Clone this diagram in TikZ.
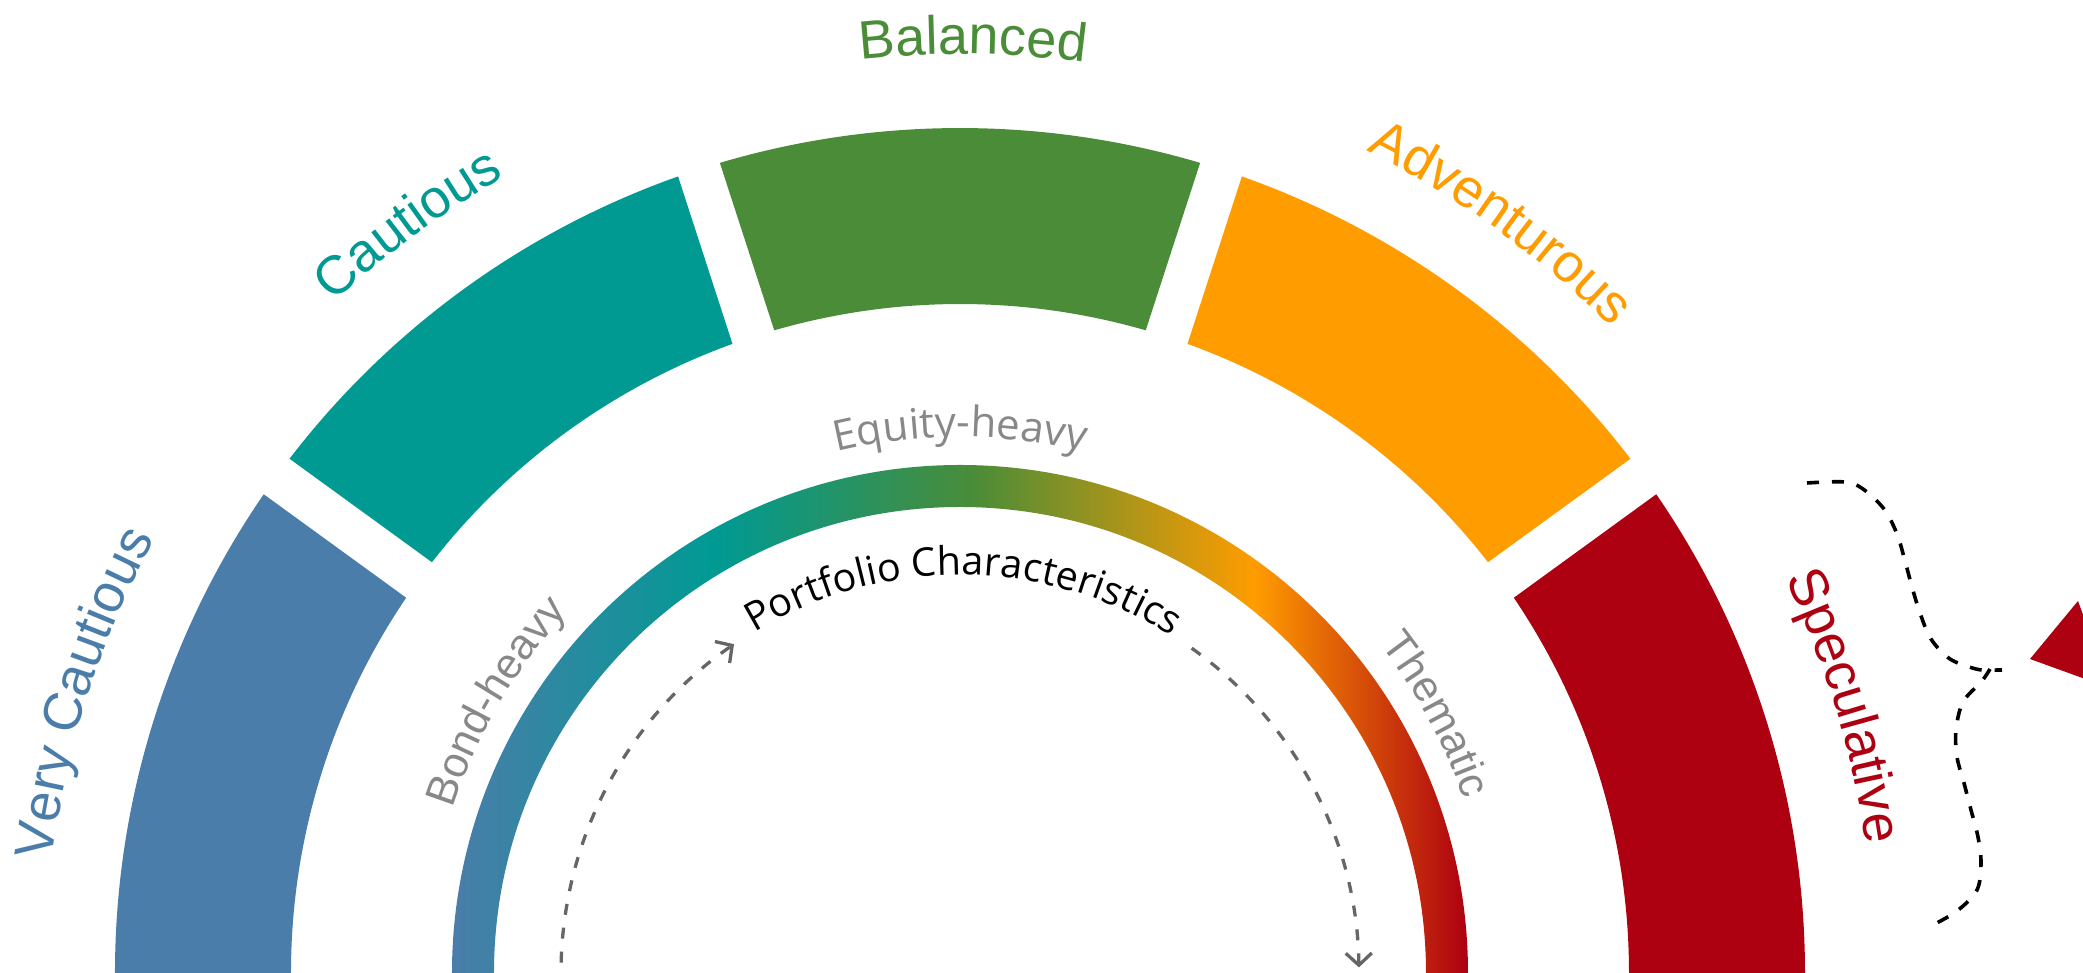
\documentclass[tikz,border=0pt]{standalone}
\usepackage{fontspec}
\setmainfont{Liberation Sans}
\newfontfamily\labfont{Liberation Sans}
\newfontfamily\charfont{Open Sans}
\usetikzlibrary{decorations.text,arrows.meta}
\definecolor{cvc}{HTML}{4A7DAA}
\definecolor{cct}{HTML}{009A93}
\definecolor{cbl}{HTML}{4A8C38}
\definecolor{cad}{HTML}{FF9C00}
\definecolor{csp}{HTML}{AD0011}
\definecolor{cgray}{HTML}{888888}
\definecolor{carrow}{HTML}{666666}
\pgfdeclarehorizontalshading{gaugeshade}{100bp}{color(0bp)=(cvc); color(25bp)=(cvc); color(38bp)=(cct); color(50.7bp)=(cbl); color(64.5bp)=(cad); color(75bp)=(csp); color(100bp)=(csp)}
\newcommand\fBig{\labfont\fontsize{54}{60}\selectfont}
\newcommand\fMid{\labfont\fontsize{43}{50}\selectfont}
\newcommand\fEq{\charfont\fontsize{42}{50}\selectfont}
\newcommand\fPC{\charfont\fontsize{39.5}{46}\selectfont}
% color, outer start, outer end, inner start, inner end
\newcommand\RiskSeg[5]{%
  \fill[#1] (#2:845) arc[start angle=#2, end angle=#3, radius=845]
    -- (#5:669) arc[start angle=#5, end angle=#4, radius=669] -- cycle;}
% radius, centre angle, half span, colour, font, text
\newcommand\ArcText[6]{%
  \path[decorate, decoration={text along path, text align=center,
      text color=#4, text={|#5|#6}}]
    ({#2+#3}:#1) arc[start angle={#2+#3}, end angle={#2-#3}, radius=#1];}
\tikzset{
  darrow/.style={draw=carrow, line width=3.3pt, dash pattern=on 11pt off 13pt,
    -{Straight Barb[length=12pt,width=26pt,line width=3.3pt]}},
  bracestyle/.style={draw=black, line width=3.6pt, dash pattern=on 12pt off 13pt}
}
\begin{document}
\begin{tikzpicture}[x=1pt,y=1pt]
\useasboundingbox (-960,0) rectangle (1123,973);
\clip (-960,0) rectangle (1123,973);

% outer risk segments
\RiskSeg{cvc}{180}{145.49}{180}{145.88}
\RiskSeg{cct}{142.51}{109.49}{142.12}{109.88}
\RiskSeg{cbl}{106.51}{73.49}{106.12}{73.88}
\RiskSeg{cad}{70.51}{37.49}{70.12}{37.88}
\RiskSeg{csp}{34.51}{0}{34.12}{0}

% gradient ring
\begin{scope}
  \clip (180:508) arc[start angle=180,end angle=0,radius=508]
     -- (0:466) arc[start angle=0,end angle=180,radius=466] -- cycle;
  \shade[shading=gaugeshade] (-508,0) rectangle (508,508);
\end{scope}

% outer labels
\ArcText{915}{162.3}{25}{cvc}{\fBig}{Very Cautious}
\ArcText{917}{126.4}{25}{cct}{\fBig}{Cautious}
\ArcText{919}{89.2}{25}{cbl}{\fBig}{Balanced}
\ArcText{917}{54.2}{25}{cad}{\fBig}{Adventurous}
\ArcText{915}{16.8}{25}{csp}{\fBig}{Speculative}

% inner labels
\ArcText{533}{149.7}{30}{cgray}{\fMid}{Bond-heavy}
\ArcText{536}{90}{30}{cgray}{\fEq}{Equity-heavy}
\ArcText{533}{28.5}{30}{cgray}{\fMid}{Thematic}
\ArcText{398}{89.5}{50}{black}{\fPC}{Portfolio Characteristics}

% dashed arrows
\coordinate (la) at (178.5:399);
\coordinate (ra) at (54.5:399);
\draw[darrow] (la) arc[start angle=178.5, end angle=124.5, radius=399];
\draw[darrow] (ra) arc[start angle=54.5, end angle=0.8, radius=399];

% brace
\draw[bracestyle] plot[smooth, tension=0.55] coordinates {(847,490) (885,491) (903,484) (924,464) (937,439) (945,412) (952,386) (960,360) (971,334) (990,314) (1016,304) (1030,303) (1042,303)};
\draw[bracestyle] plot[smooth, tension=0.55] coordinates {(1030,304) (1022,292) (1003,271) (996,243) (997,216) (1004,190) (1011,163) (1018,136) (1021,110) (1017,83) (997,62) (971,47)};

% pointer triangle
\coordinate (tA) at (1070,314);
\coordinate (tB) at (1118,372);
\coordinate (tC) at (1150,285);
\fill[csp] (tA) -- (tB) -- (tC) -- cycle;
\end{tikzpicture}
\end{document}
